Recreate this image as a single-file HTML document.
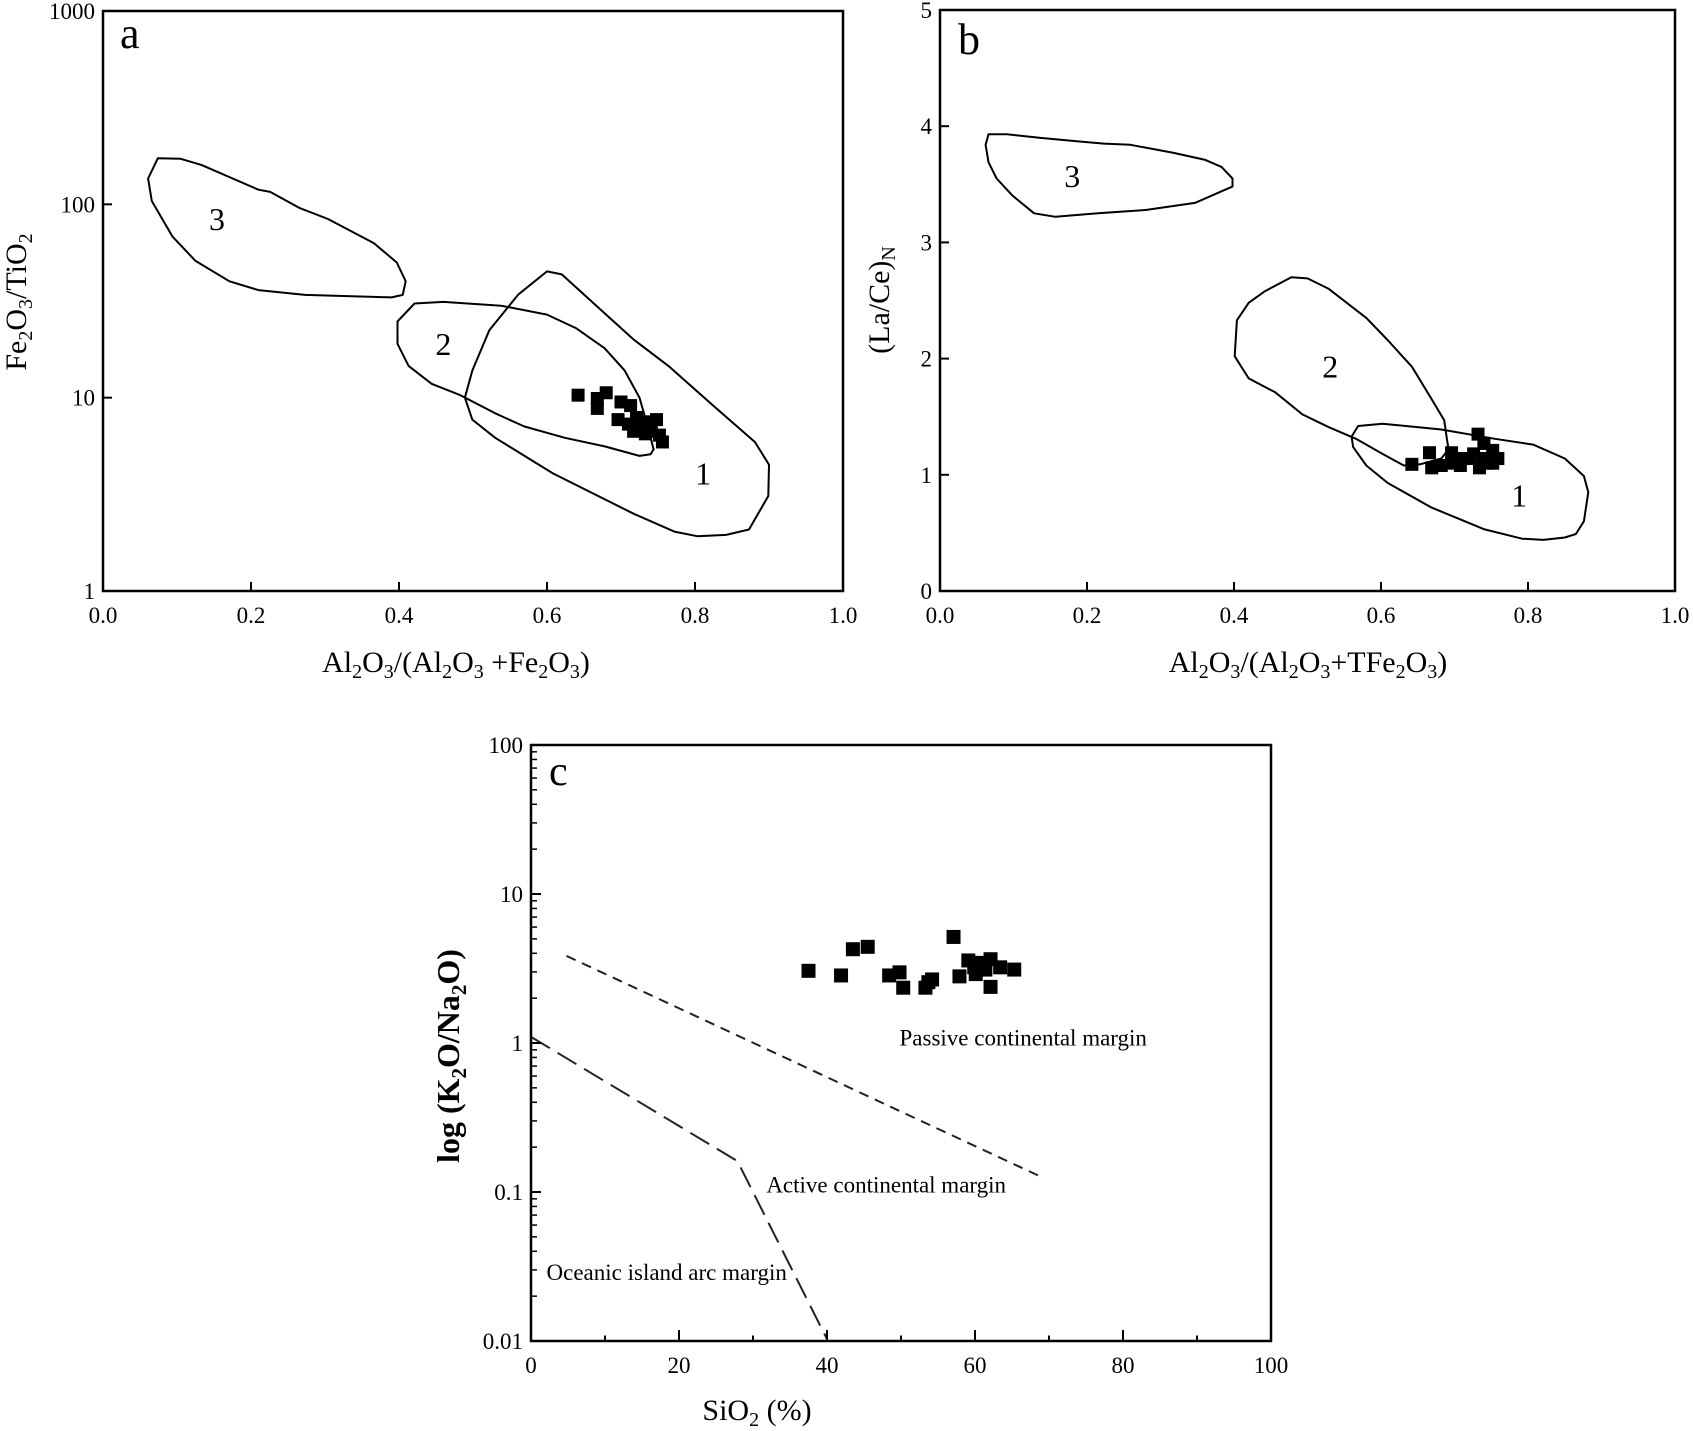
<!DOCTYPE html>
<html><head><meta charset="utf-8"><style>
html,body{margin:0;padding:0;background:#fff}
svg{display:block}
text{font-family:"Liberation Serif",serif;fill:#000}
</style></head><body>
<svg id="fig" width="1693" height="1431" viewBox="0 0 1693 1431" xmlns="http://www.w3.org/2000/svg"></svg>
<script>
// ---- Panel a data ----
const aXTicks=[0,0.2,0.4,0.6,0.8,1.0];
const aXTickLabels=["0.0","0.2","0.4","0.6","0.8","1.0"];
const aYTicks=[1,10,100,1000];
const aYTickLabels=["1","10","100","1000"];
const aPointsX=[0.642,0.668,0.668,0.680,0.700,0.713,0.696,0.710,0.721,0.725,0.737,0.739,0.748,0.752,0.756,0.733,0.717,0.741];
const aPointsY=[10.3,9.9,8.8,10.6,9.5,9.1,7.7,7.3,7.9,6.9,7.5,6.7,7.7,6.4,5.9,6.5,6.7,7.2];
const aField3X=[0.074,0.105,0.133,0.210,0.226,0.265,0.304,0.366,0.397,0.409,0.405,0.390,0.273,0.210,0.171,0.125,0.094,0.066,0.061];
const aField3Y=[173,172,160,119,116,96,84,63,50,40,34,33,34,36,40,51,68,104,136];
const aField2X=[0.421,0.460,0.538,0.600,0.639,0.678,0.705,0.725,0.737,0.744,0.740,0.725,0.678,0.624,0.569,0.530,0.483,0.444,0.413,0.398,0.398];
const aField2Y=[30.7,31.3,29.9,26.9,22.9,18.0,13.8,10.0,6.9,5.4,5.1,5.0,5.6,6.2,7.1,8.3,10.3,11.8,14.6,19.0,24.8];
const aField1X=[0.600,0.620,0.670,0.717,0.764,0.826,0.881,0.900,0.899,0.873,0.842,0.803,0.772,0.717,0.608,0.530,0.499,0.489,0.499,0.522,0.561];
const aField1Y=[45,43.4,29.1,20.0,14.6,9.0,5.9,4.5,3.1,2.08,1.95,1.92,2.03,2.51,4.06,6.2,7.7,10.0,13.8,22.3,34.1];
const aFieldLabels=["3","2","1"];
const aFieldLabelX=[0.154,0.460,0.811];
const aFieldLabelY=[84,19,4.06];

// ---- Panel b data ----
const bXTicks=[0,0.2,0.4,0.6,0.8,1.0];
const bXTickLabels=["0.0","0.2","0.4","0.6","0.8","1.0"];
const bYTicks=[0,1,2,3,4,5];
const bYTickLabels=["0","1","2","3","4","5"];
const bPointsX=[0.642,0.666,0.669,0.682,0.696,0.697,0.708,0.719,0.726,0.732,0.734,0.740,0.745,0.752,0.759,0.737,0.712,0.752];
const bPointsY=[1.09,1.19,1.06,1.08,1.19,1.10,1.08,1.14,1.18,1.35,1.06,1.27,1.10,1.21,1.14,1.14,1.14,1.10];
const bField3X=[0.066,0.091,0.135,0.186,0.223,0.259,0.318,0.361,0.383,0.398,0.398,0.383,0.347,0.281,0.215,0.157,0.128,0.099,0.077,0.066,0.062];
const bField3Y=[3.93,3.93,3.90,3.87,3.85,3.84,3.77,3.71,3.65,3.55,3.48,3.44,3.34,3.28,3.25,3.22,3.25,3.40,3.55,3.69,3.84];
const bField2X=[0.478,0.500,0.529,0.580,0.609,0.642,0.668,0.686,0.690,0.692,0.682,0.653,0.631,0.602,0.566,0.529,0.493,0.456,0.420,0.401,0.404,0.420,0.442];
const bField2Y=[2.70,2.69,2.60,2.35,2.16,1.93,1.66,1.47,1.29,1.22,1.14,1.09,1.08,1.18,1.31,1.41,1.52,1.71,1.83,2.02,2.33,2.48,2.58];
const bField1X=[0.569,0.602,0.682,0.755,0.807,0.850,0.876,0.882,0.876,0.865,0.850,0.821,0.792,0.741,0.668,0.609,0.580,0.562,0.560];
const bField1Y=[1.42,1.44,1.39,1.31,1.26,1.14,0.99,0.85,0.60,0.49,0.46,0.44,0.45,0.53,0.72,0.93,1.08,1.24,1.33];
const bFieldLabels=["3","2","1"];
const bFieldLabelX=[0.180,0.531,0.788];
const bFieldLabelY=[3.57,1.93,0.82];

// ---- Panel c data ----
const cXTicks=[0,20,40,60,80,100];
const cXTickLabels=["0","20","40","60","80","100"];
const cYTicks=[0.01,0.1,1,10,100];
const cYTickLabels=["0.01","0.1","1","10","100"];
const cPointsX=[37.5,41.9,43.5,45.5,48.4,49.8,50.3,53.3,53.7,54.2,57.1,57.9,59.1,60.1,60.7,62.1,62.1,63.4,65.3,59.9,61.4];
const cPointsY=[3.05,2.84,4.26,4.42,2.84,2.98,2.35,2.35,2.56,2.67,5.15,2.80,3.58,2.90,3.45,3.65,2.38,3.22,3.11,3.22,3.11];
const cPassiveLineX=[4.8,68.7];
const cPassiveLineY=[3.84,0.128];
const cActiveLineX=[0,27.9,40];
const cActiveLineY=[1.10,0.161,0.0103];
const cRegionLabels=["Passive continental margin","Active continental margin","Oceanic island arc margin"];
const cRegionLabelX=[49.8,31.8,2.1];
const cRegionLabelY=[1.09,0.112,0.029];

const NS="http://www.w3.org/2000/svg";
const svg=document.getElementById('fig');
function mk(tag,attrs,parent){const e=document.createElementNS(NS,tag);for(const k in attrs)e.setAttribute(k,attrs[k]);(parent||svg).appendChild(e);return e;}
function linScale(d0,d1,r0,r1){return v=>r0+(v-d0)/(d1-d0)*(r1-r0);}
function logScale(d0,d1,r0,r1){return v=>r0+(Math.log10(v)-Math.log10(d0))/(Math.log10(d1)-Math.log10(d0))*(r1-r0);}

function frame(g,L,T,R,B){
  const f=mk('rect',{x:L,y:T,width:R-L,height:B-T,fill:'none',stroke:'#000','stroke-width':2.5},g);
  
  
}
function xTicks(g,sx,B,ticks,labels,len,minor){
  ticks.forEach((t,i)=>{
    const l=mk('line',{x1:sx(t),x2:sx(t),y1:B,y2:B-len,stroke:'#000','stroke-width':2},g);
    
    
    const tx=mk('text',{x:sx(t),y:B+32,'text-anchor':'middle','font-size':23},g);
    tx.textContent=labels[i];
    
    
  });
  if(minor){minor.forEach(t=>{
    const l=mk('line',{x1:sx(t),x2:sx(t),y1:B,y2:B-len/2,stroke:'#000','stroke-width':2},g);
    
    
  });}
}
function yTicks(g,sy,L,ticks,labels,len,dy){
  ticks.forEach((t,i)=>{
    const l=mk('line',{x1:L,x2:L+len,y1:sy(t),y2:sy(t),stroke:'#000','stroke-width':2},g);
    
    
    const tx=mk('text',{x:L-8,y:sy(t)+(dy||8),'text-anchor':'end','font-size':23},g);
    tx.textContent=labels[i];
    
    
  });
}
function field(g,sx,sy,xs,ys,name){
  const d=xs.map((x,i)=>(i?'L':'M')+sx(x).toFixed(1)+','+sy(ys[i]).toFixed(1)).join(' ')+' Z';
  const p=mk('path',{d:d,fill:'none',stroke:'#000','stroke-width':2,'stroke-linejoin':'round'},g);
  
  
}
function points(g,sx,sy,xs,ys,s){
  xs.forEach((x,i)=>{
    const r=mk('rect',{x:sx(x)-s/2,y:sy(ys[i])-s/2,width:s,height:s,fill:'#000'},g);
    
    
  });
}
function fieldLabels(g,sx,sy,labs,xs,ys){
  labs.forEach((t,i)=>{
    const tx=mk('text',{x:sx(xs[i]),y:sy(ys[i])+11,'text-anchor':'middle','font-size':32},g);
    tx.textContent=t;
    
    
  });
}

// Panel a
{
  const L=103,T=11,R=843,B=591;
  const g=mk('g',{});
  
  
  const sx=linScale(0,1,L,R), sy=logScale(1,1000,B,T);
  field(g,sx,sy,aField3X,aField3Y,'field-3');
  field(g,sx,sy,aField2X,aField2Y,'field-2');
  field(g,sx,sy,aField1X,aField1Y,'field-1');
  points(g,sx,sy,aPointsX,aPointsY,13);
  fieldLabels(g,sx,sy,aFieldLabels,aFieldLabelX,aFieldLabelY);
  frame(g,L,T,R,B);
  xTicks(g,sx,B,aXTicks,aXTickLabels,9);
  yTicks(g,sy,L,aYTicks,aYTickLabels,9);
  const lt=mk('text',{x:120,y:48,'font-size':44},g);lt.textContent='a';
  
  const xt=mk('text',{x:456,y:672,'text-anchor':'middle','font-size':30},g);
  xt.innerHTML='Al<tspan font-size="20" dy="6">2</tspan><tspan dy="-6">O</tspan><tspan font-size="20" dy="6">3</tspan><tspan dy="-6">/(Al</tspan><tspan font-size="20" dy="6">2</tspan><tspan dy="-6">O</tspan><tspan font-size="20" dy="6">3</tspan><tspan dy="-6"> +Fe</tspan><tspan font-size="20" dy="6">2</tspan><tspan dy="-6">O</tspan><tspan font-size="20" dy="6">3</tspan><tspan dy="-6">)</tspan>';
  
  const yt=mk('text',{x:0,y:0,'text-anchor':'middle','font-size':30,transform:'translate(26,302) rotate(-90)'},g);
  yt.innerHTML='Fe<tspan font-size="20" dy="6">2</tspan><tspan dy="-6">O</tspan><tspan font-size="20" dy="6">3</tspan><tspan dy="-6">/TiO</tspan><tspan font-size="20" dy="6">2</tspan>';
  
}
// Panel b
{
  const L=940,T=10,R=1675,B=591;
  const g=mk('g',{});
  
  
  const sx=linScale(0,1,L,R), sy=linScale(0,5,B,T);
  field(g,sx,sy,bField3X,bField3Y,'field-3');
  field(g,sx,sy,bField2X,bField2Y,'field-2');
  field(g,sx,sy,bField1X,bField1Y,'field-1');
  points(g,sx,sy,bPointsX,bPointsY,13);
  fieldLabels(g,sx,sy,bFieldLabels,bFieldLabelX,bFieldLabelY);
  frame(g,L,T,R,B);
  xTicks(g,sx,B,bXTicks,bXTickLabels,9);
  yTicks(g,sy,L,bYTicks,bYTickLabels,9);
  const lt=mk('text',{x:958,y:54,'font-size':44},g);lt.textContent='b';
  
  const xt=mk('text',{x:1308,y:672,'text-anchor':'middle','font-size':30},g);
  xt.innerHTML='Al<tspan font-size="20" dy="6">2</tspan><tspan dy="-6">O</tspan><tspan font-size="20" dy="6">3</tspan><tspan dy="-6">/(Al</tspan><tspan font-size="20" dy="6">2</tspan><tspan dy="-6">O</tspan><tspan font-size="20" dy="6">3</tspan><tspan dy="-6">+TFe</tspan><tspan font-size="20" dy="6">2</tspan><tspan dy="-6">O</tspan><tspan font-size="20" dy="6">3</tspan><tspan dy="-6">)</tspan>';
  
  const yt=mk('text',{x:0,y:0,'text-anchor':'middle','font-size':30,transform:'translate(889,300) rotate(-90)'},g);
  yt.innerHTML='(La/Ce)<tspan font-size="20" dy="6">N</tspan>';
  
}
// Panel c
{
  const L=531,T=745,R=1271,B=1341;
  const g=mk('g',{});
  
  
  const sx=linScale(0,100,L,R), sy=logScale(0.01,100,B,T);
  const d1=cPassiveLineX.map((x,i)=>(i?'L':'M')+sx(x)+','+sy(cPassiveLineY[i])).join(' ');
  const p1=mk('path',{d:d1,fill:'none',stroke:'#222','stroke-width':2,'stroke-dasharray':'10,7'},g);
  
  const d2=cActiveLineX.map((x,i)=>(i?'L':'M')+sx(x)+','+sy(cActiveLineY[i])).join(' ');
  const p2=mk('path',{d:d2,fill:'none',stroke:'#222','stroke-width':2,'stroke-dasharray':'22,9'},g);
  
  points(g,sx,sy,cPointsX,cPointsY,14);
  cRegionLabels.forEach((t,i)=>{
    const tx=mk('text',{x:sx(cRegionLabelX[i]),y:sy(cRegionLabelY[i])+8,'font-size':23,fill:'#222'},g);
    tx.textContent=t;
    
    
  });
  frame(g,L,T,R,B);
  const minorX=[10,30,50,70,90];
  xTicks(g,sx,B,cXTicks,cXTickLabels,11,minorX);
  yTicks(g,sy,L,cYTicks,cYTickLabels,10);
  for(let e=-2;e<2;e++){for(let m=2;m<10;m++){
    const v=m*Math.pow(10,e);
    const l=mk('line',{x1:L,x2:L+6,y1:sy(v),y2:sy(v),stroke:'#000','stroke-width':1.5},g);
    
  }}
  const lt=mk('text',{x:549,y:785,'font-size':42},g);lt.textContent='c';
  
  const xt=mk('text',{x:757,y:1420,'text-anchor':'middle','font-size':30},g);
  xt.innerHTML='SiO<tspan font-size="20" dy="6">2</tspan><tspan dy="-6"> (%)</tspan>';
  
  const yt=mk('text',{x:0,y:0,'text-anchor':'middle','font-size':32,'font-weight':'bold',transform:'translate(459,1056) rotate(-90)'},g);
  yt.innerHTML='log (K<tspan font-size="21" dy="7">2</tspan><tspan dy="-7">O/Na</tspan><tspan font-size="21" dy="7">2</tspan><tspan dy="-7">O)</tspan>';
  
}
</script>
</body></html>
